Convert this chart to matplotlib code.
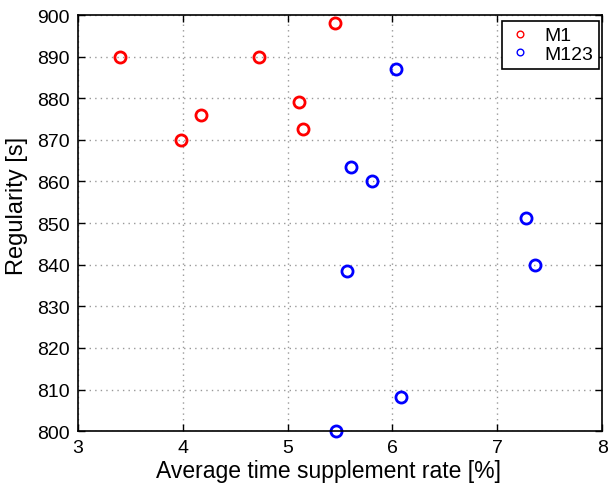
import matplotlib
matplotlib.use('Agg')
import matplotlib.pyplot as plt

plt.rcParams['font.family'] = ['Liberation Sans', 'DejaVu Sans']

m1_x = [3.40, 4.73, 5.45, 5.11, 4.17, 3.98, 5.15]
m1_y = [890, 890, 898, 879, 876, 870, 872.6]
m123_x = [6.03, 5.60, 5.80, 7.27, 7.36, 5.57, 6.08, 5.46]
m123_y = [887, 863.5, 860, 851.2, 840, 838.5, 808.2, 800]

fig = plt.figure(figsize=(6.1, 4.85), dpi=100)
ax = fig.add_axes([0.128, 0.109, 0.859, 0.858])

ax.plot(m1_x, m1_y, 'o', mfc='none', mec='red', ms=8, mew=2, label='M1', clip_on=False)
ax.plot(m123_x, m123_y, 'o', mfc='none', mec='blue', ms=8, mew=2, label='M123', clip_on=False)

ax.set_xlim(3, 8)
ax.set_ylim(800, 900)
ax.set_xticks(range(3, 9))
ax.set_yticks(range(800, 901, 10))
ax.grid(True, linestyle=(0, (1, 3)), color='#999999', linewidth=1)
ax.tick_params(direction='in', top=True, right=True, labelsize=14, length=5, width=1)
ax.tick_params(axis='x', pad=6)
ax.tick_params(axis='y', pad=6)
for s in ax.spines.values():
    s.set_linewidth(1.2)
ax.set_xlabel('Average time supplement rate [%]', fontsize=16.5)
ax.set_ylabel('Regularity [s]', fontsize=17)
ax.xaxis.set_label_coords(0.477, -0.068)
ax.yaxis.set_label_coords(-0.095, 0.543)

leg = ax.legend(loc='upper right', bbox_to_anchor=(0.9943, 0.9856), fontsize=14,
                markerscale=0.6, handlelength=1.3, borderaxespad=0, fancybox=False,
                framealpha=1, labelspacing=0.05, borderpad=0.3, handletextpad=0.6)
leg.get_frame().set_edgecolor('black')
leg.get_frame().set_linewidth(1.2)
for h in leg.legend_handles:
    h.set_markeredgewidth(1)

fig.savefig('out.png', dpi=100)
